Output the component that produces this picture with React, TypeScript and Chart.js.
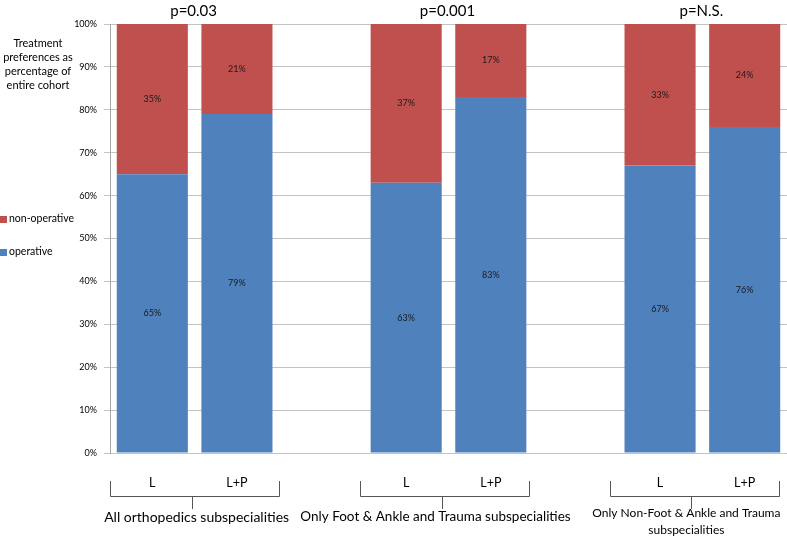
import React, { useEffect, useRef } from "react";
import { Chart, registerables } from "chart.js";

Chart.register(...registerables);

const categories = ["L", "L+P", "", "L", "L+P", "", "L", "L+P"];
const operative = [65, 79, null, 63, 83, null, 67, 76];
const nonOperative = [35, 21, null, 37, 17, null, 33, 24];
const seriesNames = ["operative", "non-operative"];
const pValues = ["p=0.03", "p=0.001", "p=N.S."];
const groupMembers = [
  [0, 1],
  [3, 4],
  [6, 7],
];
const groupLabels = [
  ["All orthopedics subspecialities"],
  ["Only Foot & Ankle and Trauma subspecialities"],
  ["Only Non-Foot & Ankle and Trauma", "subspecialities"],
];
const yTitleLines = ["Treatment", "preferences as", "percentage of", "entire cohort"];
const yTicks = [0, 10, 20, 30, 40, 50, 60, 70, 80, 90, 100];

const BLUE = "#4F81BD";
const RED = "#C0504D";
const FONT = "Lato, 'Open Sans', sans-serif";

const overlayPlugin = {
  id: "overlay",
  afterDraw(chart: any) {
    const ctx = chart.ctx;
    const x = chart.scales.x;
    ctx.save();

    // data labels
    ctx.textAlign = "center";
    ctx.textBaseline = "middle";
    ctx.font = `9px ${FONT}`;
    ctx.fillStyle = "#1a1a1a";
    chart.data.datasets.forEach((ds: any, di: number) => {
      const meta = chart.getDatasetMeta(di);
      meta.data.forEach((el: any, i: number) => {
        const v = ds.data[i];
        if (v == null) return;
        const cy = (el.y + el.base) / 2;
        ctx.fillText(`${v}%`, el.x, cy);
      });
    });

    // y title
    ctx.font = `11px ${FONT}`;
    ctx.fillStyle = "#000";
    yTitleLines.forEach((t, i) => ctx.fillText(t, 38, 43 + i * 14));

    // legend
    ctx.textAlign = "left";
    ctx.font = `10.5px ${FONT}`;
    const legend = [
      { name: seriesNames[1], color: RED, y: 219 },
      { name: seriesNames[0], color: BLUE, y: 252 },
    ];
    legend.forEach((l) => {
      ctx.fillStyle = l.color;
      ctx.fillRect(0, l.y - 3, 7, 7);
      ctx.fillStyle = "#000";
      ctx.fillText(l.name, 9, l.y);
    });

    // p values, brackets, group labels
    const bracketShift = [0, -4, -8];
    const stemShift = [-3, -7, -11];
    const labelShift = [2, -13, -16];
    const labelSize = [14, 13.5, 12];
    groupMembers.forEach((g, gi) => {
      const xa = x.getPixelForValue(g[0]);
      const xb = x.getPixelForValue(g[1]);
      const cx = (xa + xb) / 2;
      ctx.textAlign = "center";
      ctx.fillStyle = "#000";
      ctx.font = `15px ${FONT}`;
      ctx.fillText(pValues[gi], cx - 1, 11);

      const half = (xb - xa) / 2 + 42;
      const bl = cx + bracketShift[gi] - half;
      const br = cx + bracketShift[gi] + half;
      ctx.strokeStyle = "#555";
      ctx.lineWidth = 1;
      ctx.beginPath();
      ctx.moveTo(Math.round(bl) + 0.5, 481);
      ctx.lineTo(Math.round(bl) + 0.5, 496.5);
      ctx.lineTo(Math.round(br) + 0.5, 496.5);
      ctx.lineTo(Math.round(br) + 0.5, 481);
      ctx.moveTo(Math.round(cx + stemShift[gi]) + 0.5, 496.5);
      ctx.lineTo(Math.round(cx + stemShift[gi]) + 0.5, 509);
      ctx.stroke();

      const lines = groupLabels[gi];
      ctx.font = `${labelSize[gi]}px ${FONT}`;
      lines.forEach((t, li) => {
        const ly = lines.length > 1 ? 513 + li * 17 : 517;
        ctx.fillText(t, cx + labelShift[gi], ly);
      });
    });

    ctx.restore();
  },
};

export default function App() {
  const ref = useRef<HTMLCanvasElement | null>(null);
  useEffect(() => {
    if (!ref.current) return;
    const chart = new Chart(ref.current, {
      type: "bar",
      data: {
        labels: categories,
        datasets: [
          { label: seriesNames[0], data: operative, backgroundColor: BLUE },
          { label: seriesNames[1], data: nonOperative, backgroundColor: RED },
        ],
      },
      options: {
        animation: false,
        responsive: false,
        devicePixelRatio: 1,
        layout: { padding: { top: 24, left: 0, right: 0, bottom: 0 } },
        plugins: { legend: { display: false }, tooltip: { enabled: false } },
        datasets: { bar: { categoryPercentage: 1, barPercentage: 0.84 } },
        scales: {
          x: {
            stacked: true,
            grid: { display: false },
            border: { display: false },
            ticks: {
              padding: 14,
              color: "#000",
              font: { family: FONT, size: 12.5 },
              autoSkip: false,
              maxRotation: 0,
            },
            afterFit: (s: any) => {
              s.height = 85;
            },
          },
          y: {
            stacked: true,
            min: 0,
            max: 100,
            afterBuildTicks: (s: any) => {
              s.ticks = yTicks.map((v) => ({ value: v }));
            },
            grid: { color: "#c4c4c4", tickLength: 6, lineWidth: 1 },
            border: { display: true, color: "#a6a6a6" },
            ticks: {
              padding: 7,
              color: "#000",
              font: { family: FONT, size: 9 },
              callback: (v: any) => `${v}%`,
            },
            afterFit: (s: any) => {
              s.width = 110;
            },
          },
        },
      } as any,
      plugins: [overlayPlugin],
    });
    return () => chart.destroy();
  }, []);
  return (
    <div style={{ position: "fixed", left: 0, top: 0, width: 787, height: 538, background: "#fff" }}>
      <canvas ref={ref} width={787} height={538} style={{ width: 787, height: 538, display: "block" }} />
    </div>
  );
}
